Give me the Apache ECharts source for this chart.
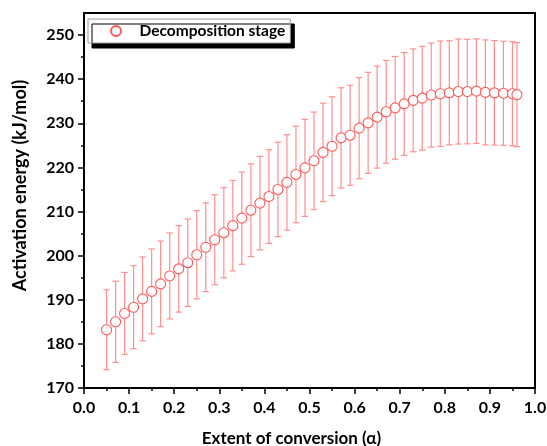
<!DOCTYPE html>
<html>
<head>
<meta charset="utf-8">
<script src="https://cdn.jsdelivr.net/npm/echarts@6/dist/echarts.min.js"></script>
<style>html,body{margin:0;padding:0;background:#fff}#c{width:547px;height:446px}</style>
</head>
<body>
<div id="c"></div>
<script>
const seriesName = 'Decomposition stage';
const alpha = [0.05,0.07,0.09,0.11,0.13,0.15,0.17,0.19,0.21,0.23,0.25,0.27,0.29,0.31,0.33,0.35,0.37,0.39,0.41,0.43,0.45,0.47,0.49,0.51,0.53,0.55,0.57,0.59,0.61,0.63,0.65,0.67,0.69,0.71,0.73,0.75,0.77,0.79,0.81,0.83,0.85,0.87,0.89,0.91,0.93,0.95,0.96];
const energy = [183.2,185.0,186.9,188.3,190.2,191.9,193.6,195.4,197.0,198.4,200.2,201.9,203.6,205.2,206.8,208.5,210.3,211.9,213.4,215.0,216.6,218.4,219.9,221.5,223.4,224.8,226.7,227.3,228.9,230.1,231.4,232.6,233.5,234.4,235.2,235.7,236.4,236.7,236.9,237.2,237.2,237.3,237.0,236.9,236.8,236.7,236.5];
const errorBar = [9.05,9.2,9.3,9.4,9.5,9.6,9.7,9.75,9.8,9.9,10.0,10.05,10.2,10.2,10.25,10.45,10.5,10.6,10.6,10.7,10.8,10.95,11.0,11.05,11.15,11.2,11.35,11.35,11.45,11.45,11.55,11.65,11.65,11.65,11.65,11.75,11.8,11.95,11.8,11.9,11.85,11.85,11.9,11.85,11.8,11.8,11.8];
const yMajorTicks = [170,180,190,200,210,220,230,240,250];
const yMinorTicks = [175,185,195,205,215,225,235,245];

const FONT = 'Lato';
const markerColor = '#ff5a5a';
const barColor = '#ff8f8f';

const points = alpha.map((a, i) => [a, energy[i]]);
const bars = alpha.map((a, i) => [a, energy[i] - errorBar[i], energy[i] + errorBar[i]]);

const chart = echarts.init(document.getElementById('c'), null, {renderer: 'canvas'});
chart.setOption({
  animation: false,
  backgroundColor: '#fff',
  grid: {left: 84, right: 12, top: 13, bottom: 58, containLabel: false, outerBoundsMode: 'none'},
  legend: {
    left: 88, top: 19,
    data: [seriesName],
    backgroundColor: '#fff',
    borderColor: '#9a9a9a', borderWidth: 1, borderRadius: 0,
    shadowColor: '#000', shadowBlur: 0, shadowOffsetX: 4, shadowOffsetY: 5,
    padding: [3, 5, 3, 22],
    itemWidth: 25, itemHeight: 10, itemGap: 0,
    textStyle: {fontFamily: FONT, fontWeight: 'bold', fontSize: 15.5, color: '#000', lineHeight: 18, padding: [0, 0, 0, 6]}
  },
  xAxis: [{
    type: 'value', min: 0, max: 1, interval: 0.1, position: 'bottom',
    name: 'Extent of conversion (α)', nameLocation: 'middle', nameGap: 42,
    nameTextStyle: {fontFamily: FONT, fontWeight: 'bold', fontSize: 17, color: '#000', padding: [0, 36, 0, 0]},
    axisLine: {show: true, lineStyle: {color: '#000', width: 2}},
    axisTick: {show: true, inside: false, length: 6, lineStyle: {color: '#000', width: 1.5}},
    minorTick: {show: true, splitNumber: 2, length: 3, lineStyle: {color: '#000', width: 1.5}},
    axisLabel: {margin: 12, fontFamily: FONT, fontWeight: 'bold', fontSize: 16, color: '#000',
      formatter: v => v.toFixed(1)},
    splitLine: {show: false}
  }, {
    type: 'value', min: 0, max: 1, position: 'top',
    axisLine: {show: true, lineStyle: {color: '#000', width: 2}},
    axisTick: {show: false}, axisLabel: {show: false}, splitLine: {show: false}
  }],
  yAxis: [{
    type: 'value', min: 170, max: 255, interval: 10, position: 'left',
    name: 'Activation energy (kJ/mol)', nameLocation: 'middle', nameGap: 55, nameRotate: 90,
    nameTextStyle: {fontFamily: FONT, fontWeight: 'bold', fontSize: 18, color: '#000', padding: [0, 0, 0, 30]},
    axisLine: {show: true, lineStyle: {color: '#000', width: 2}},
    axisTick: {show: true, inside: false, length: 6, customValues: yMajorTicks, lineStyle: {color: '#000', width: 1.5}},
    axisLabel: {margin: 10, customValues: yMajorTicks, fontFamily: FONT, fontWeight: 'bold', fontSize: 16, color: '#000'},
    splitLine: {show: false}
  }, {
    type: 'value', min: 170, max: 255, position: 'left',
    axisLine: {show: false},
    axisTick: {show: true, inside: false, length: 3, customValues: yMinorTicks, lineStyle: {color: '#000', width: 1.5}},
    axisLabel: {show: false}, splitLine: {show: false}
  }, {
    type: 'value', min: 170, max: 255, position: 'right',
    axisLine: {show: true, lineStyle: {color: '#000', width: 2}},
    axisTick: {show: false}, axisLabel: {show: false}, splitLine: {show: false}
  }],
  series: [{
    type: 'custom',
    name: 'error',
    xAxisIndex: 0, yAxisIndex: 0,
    z: 1,
    data: bars,
    renderItem: function (params, api) {
      const x = api.value(0);
      const lo = api.coord([x, api.value(1)]);
      const hi = api.coord([x, api.value(2)]);
      const w = 3.2;
      const st = {stroke: barColor, lineWidth: 1.2};
      return {type: 'group', children: [
        {type: 'line', shape: {x1: hi[0], y1: hi[1], x2: lo[0], y2: lo[1]}, style: st},
        {type: 'line', shape: {x1: hi[0] - w, y1: hi[1], x2: hi[0] + w, y2: hi[1]}, style: st},
        {type: 'line', shape: {x1: lo[0] - w, y1: lo[1], x2: lo[0] + w, y2: lo[1]}, style: st}
      ]};
    }
  }, {
    type: 'scatter',
    name: seriesName,
    xAxisIndex: 0, yAxisIndex: 0,
    z: 3,
    symbol: 'circle',
    symbolSize: 10,
    itemStyle: {color: '#fff', borderColor: markerColor, borderWidth: 1.1, opacity: 1},
    data: points
  }]
});
</script>
</body>
</html>
